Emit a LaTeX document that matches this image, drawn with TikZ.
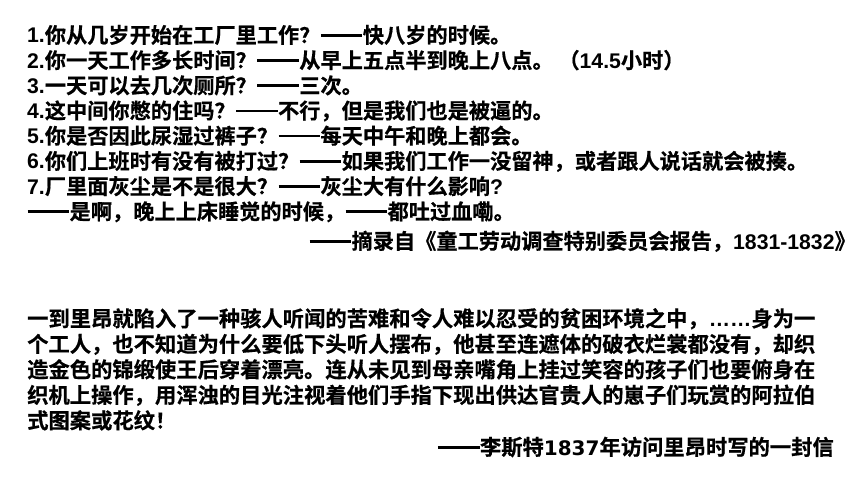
\documentclass[tikz,border=0pt]{standalone}
\usepackage{fontspec}
\newfontfamily\cjk{Noto Sans CJK SC}[BoldFont={Noto Sans CJK SC Bold},BoldFeatures={FakeBold=0.6}]
\newfontfamily\lat{Liberation Sans}
\newfontfamily\dvs{DejaVu Sans}
\newcommand{\dsh}{\hbox to 2em{\hss\rule[0.30em]{1.96em}{0.12em}\hss}}
\XeTeXlinebreaklocale "zh"
\XeTeXlinebreakskip=0pt plus 3pt
\tikzset{
  toptxt/.style={inner sep=0pt, anchor=base west, font=\cjk\bfseries\fontsize{21.2}{21.2}\selectfont},
  bottxt/.style={inner sep=0pt, anchor=base west, font=\cjk\bfseries\fontsize{21.3}{21.3}\selectfont},
}
\begin{document}
\begin{tikzpicture}[x=1pt,y=-1pt]
\useasboundingbox[fill=white] (0,0) rectangle (860,484);
\node[toptxt] (q1) at (27,43) {{\lat 1.}你从几岁开始在工厂里工作？\dsh 快八岁的时候。};
\node[toptxt] (q2) at (27,68.2) {{\lat 2.}你一天工作多长时间？\dsh 从早上五点半到晚上八点。 （{\lat 14.5}小时）};
\node[toptxt] (q3) at (27,93.4) {{\lat 3.}一天可以去几次厕所？\dsh 三次。};
\node[toptxt] (q4) at (27,118.6) {{\lat 4.}这中间你憋的住吗？\dsh 不行，但是我们也是被逼的。};
\node[toptxt] (q5) at (27,143.8) {{\lat 5.}你是否因此尿湿过裤子？\dsh 每天中午和晚上都会。};
\node[toptxt] (q6) at (27,169) {{\lat 6.}你们上班时有没有被打过？\dsh 如果我们工作一没留神，或者跟人说话就会被揍。};
\node[toptxt] (q7) at (27,194.2) {{\lat 7.}厂里面灰尘是不是很大？\dsh 灰尘大有什么影响{\lat ?}};
\node[toptxt] (q8) at (27,219.4) {\dsh 是啊，晚上上床睡觉的时候，\dsh 都吐过血嘞。};
\node[toptxt] (src1) at (309,249) {\dsh 摘录自《童工劳动调查特别委员会报告，{\lat 1831-1832}》};
\node[bottxt] (p1) at (27,326.5) {\hbox to 790pt{一到里昂就陷入了一种骇人听闻的苦难和令人难以忍受的贫困环境之中，{\lat ……}身为一}};
\node[bottxt] (p2) at (27,352) {\hbox to 790pt{个工人，也不知道为什么要低下头听人摆布，他甚至连遮体的破衣烂裳都没有，却织}};
\node[bottxt] (p3) at (27,377.5) {\hbox to 790pt{造金色的锦缎使王后穿着漂亮。连从未见到母亲嘴角上挂过笑容的孩子们也要俯身在}};
\node[bottxt] (p4) at (27,403) {\hbox to 790pt{织机上操作，用浑浊的目光注视着他们手指下现出供达官贵人的崽子们玩赏的阿拉伯}};
\node[bottxt] (p5) at (27,428.5) {式图案或花纹！};
\node[bottxt, anchor=base east] (src2) at (834,455) {\dsh 李斯特{\dvs\fontsize{20}{20}\selectfont 1837}年访问里昂时写的一封信};
\end{tikzpicture}
\end{document}
